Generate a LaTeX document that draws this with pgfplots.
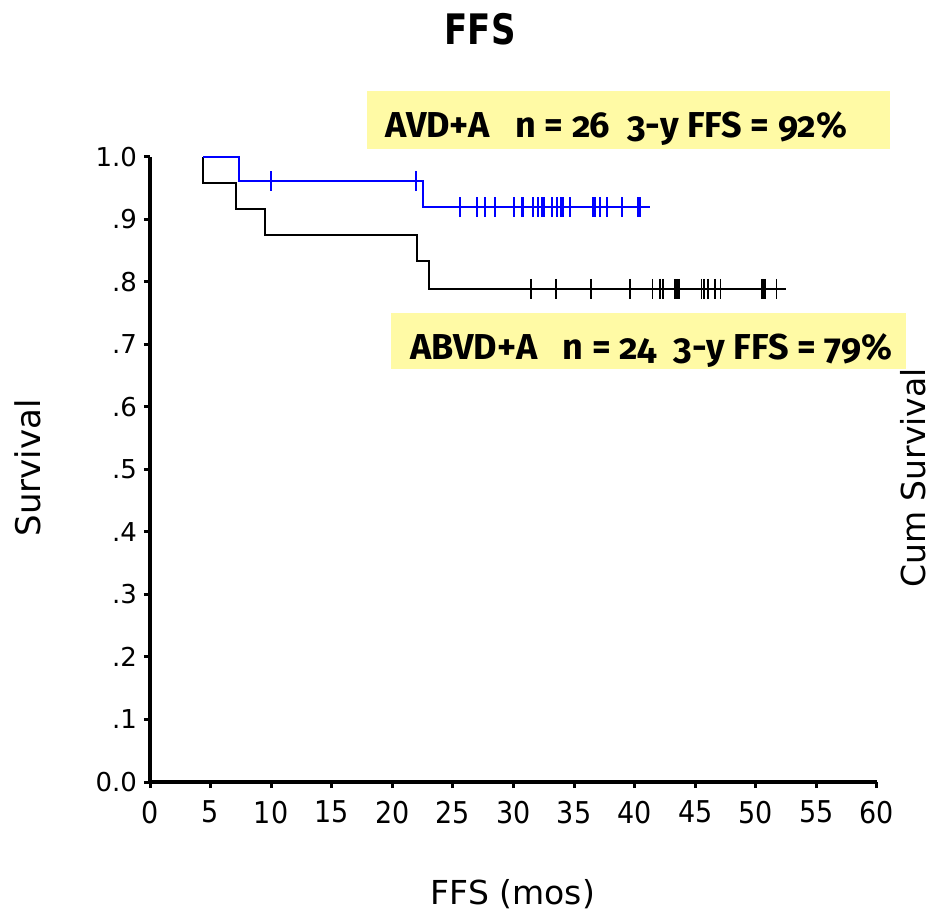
\documentclass[border=0pt]{standalone}
\usepackage{fontspec}
\setmainfont{DejaVu Sans}
\newfontfamily\condfont{DejaVu Sans Condensed}
\newfontfamily\boxfont[Numbers=OldStyle]{Fira Sans}
\usepackage{pgfplots}
\pgfplotsset{compat=1.18}
\definecolor{boxyellow}{RGB}{255,250,165}
\begin{document}
\begin{tikzpicture}
\useasboundingbox (-75bp,-66bp) rectangle (391bp,391bp);
\fill[boxyellow] (108.5bp,316.5bp) rectangle (370bp,345.5bp);
\fill[boxyellow] (120.5bp,206.5bp) rectangle (378bp,234.5bp);
\begin{axis}[
  at={(0,0)}, anchor=south west,
  scale only axis, width=363.5bp, height=312.5bp,
  xmin=0, xmax=60, ymin=0, ymax=1,
  axis x line*=bottom, axis y line*=left,
  axis line style={line width=2bp, black},
  tick align=outside, major tick length=3bp,
  tick style={line width=1.5bp, black},
  xtick={0,5,10,15,20,25,30,35,40,45,50,55,60},
  xticklabels={0,5,10,15,20,25,30,35,40,45,50,55,60},
  ytick={0,0.1,0.2,0.3,0.4,0.5,0.6,0.7,0.8,0.9,1.0},
  yticklabels={0.0,.1,.2,.3,.4,.5,.6,.7,.8,.9,1.0},
  /pgf/number format/assume math mode=true,
  xticklabel style={font=\condfont\fontsize{15bp}{18bp}\selectfont, yshift=-3bp},
  yticklabel style={font=\fontsize{13bp}{16bp}\selectfont},
  clip=false,
]
% ABVD+A (black)
\addplot[const plot, black, line width=1bp] coordinates {
 (4.4,1.0) (4.4,0.958) (7.1,0.917) (9.49,0.875) (22.06,0.833) (23.05,0.789) (52.53,0.789)};
\addplot[only marks, mark=|, mark size=5bp, black, mark options={line width=0.9bp}] coordinates {
 (31.44,0.789) (33.5,0.789) (36.39,0.789) (39.6,0.789) (41.47,0.789) (42.08,0.789)
 (42.35,0.789) (43.32,0.789) (43.51,0.789) (43.67,0.789) (45.52,0.789) (45.71,0.789)
 (46.06,0.789) (46.62,0.789) (47.08,0.789) (50.52,0.789) (50.61,0.789) (50.74,0.789)
 (51.7,0.789)};
% AVD+A (blue)
\addplot[const plot, blue, line width=1bp] coordinates {
 (4.4,1.0) (7.37,0.9615) (22.55,0.9197) (41.25,0.9197)};
\addplot[only marks, mark=|, mark size=5bp, blue, mark options={line width=1bp}] coordinates {
 (9.96,0.9615) (21.95,0.9615)
 (25.58,0.9197) (27.0,0.9197) (27.64,0.9197) (28.47,0.9197) (30.06,0.9197) (30.67,0.9197)
 (30.8,0.9197) (31.63,0.9197) (31.99,0.9197) (32.32,0.9197) (32.5,0.9197) (33.14,0.9197)
 (33.6,0.9197) (33.94,0.9197) (34.1,0.9197) (34.65,0.9197) (36.58,0.9197) (36.7,0.9197)
 (37.13,0.9197) (37.68,0.9197) (38.92,0.9197) (40.29,0.9197) (40.48,0.9197)};
\end{axis}
\node[anchor=base west, inner sep=0pt, font=\boxfont\bfseries\fontsize{18bp}{21bp}\selectfont] at (117.5bp,322bp) {AVD+A\ \ \ n = 26\ \ 3-y FFS = 92\%};
\node[anchor=base west, inner sep=0pt, font=\boxfont\bfseries\fontsize{18bp}{21bp}\selectfont] at (130bp,211bp) {ABVD+A\ \ \ n = 24\ \ 3-y FFS = 79\%};
\node[font=\condfont\bfseries\fontsize{21bp}{24bp}\selectfont] at (165bp,376.5bp) {\scalebox{0.9}[1]{FFS}};
\node[rotate=90, font=\fontsize{17bp}{20bp}\selectfont] at (-61bp,157bp) {Survival};
\node[font=\fontsize{16.5bp}{20bp}\selectfont] at (181.5bp,-56bp) {FFS (mos)};
\node[rotate=90, font=\fontsize{16.5bp}{20bp}\selectfont] at (381.5bp,152bp) {Cum Survival};
\end{tikzpicture}
\end{document}
